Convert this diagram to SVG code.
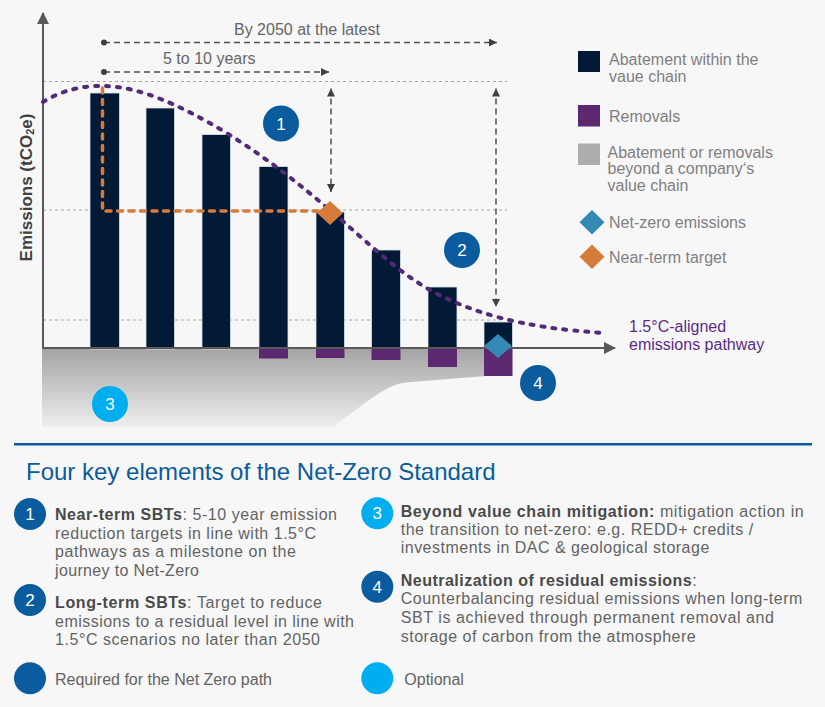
<svg xmlns="http://www.w3.org/2000/svg" width="825" height="707" viewBox="0 0 825 707">
<style>
text { font-family: "Liberation Sans", Arial, sans-serif; }
.bar { fill: #021A35; stroke: #DDE3EA; stroke-width: 0.8; }
.rem { fill: #5C2870; }
.grid { stroke: #A6A6A6; stroke-width: 1; stroke-dasharray: 3 3; fill: none; }
.axis { stroke: #595959; stroke-width: 2; fill: none; }
.ann { stroke: #4D4D4D; stroke-width: 1.5; stroke-dasharray: 6 4; fill: none; }
.annText { font-size: 16px; fill: #666666; }
.leg { font-size: 16px; fill: #808080; }
.num { font-size: 17px; fill: #FFFFFF; text-anchor: middle; }
.req { fill: #0B5C9E; }
.opt { fill: #00AEEF; }
.body { font-size: 16px; fill: #636363; }
.b { font-weight: bold; fill: #4A4A4A; }
.navy { fill: #021A35; }
.blueD { fill: #3589B5; }
.orangeD { fill: #D67B3C; }
</style>
<defs>
  <linearGradient id="greyGrad" x1="0" y1="0" x2="0" y2="1">
    <stop offset="0" stop-color="#A3A3A3"/>
    <stop offset="1" stop-color="#EEEEEE"/>
  </linearGradient>
  <marker id="axisArrow" viewBox="0 0 12 12" refX="11" refY="6" markerWidth="12" markerHeight="12" markerUnits="userSpaceOnUse" orient="auto">
    <path d="M0,0 L12,6 L0,12 Z" fill="#595959"/>
  </marker>
  <marker id="smallArrow" viewBox="0 0 8 8" refX="8" refY="4" markerWidth="8" markerHeight="8" markerUnits="userSpaceOnUse" orient="auto-start-reverse">
    <path d="M0,0 L8,4 L0,8 Z" fill="#404040"/>
  </marker>
  <marker id="startDot" viewBox="0 0 8 8" refX="4" refY="4" markerWidth="8" markerHeight="8" markerUnits="userSpaceOnUse">
    <circle cx="4" cy="4" r="3" fill="#404040"/>
  </marker>
</defs>

<rect x="0" y="0" width="825" height="707" fill="#F7F7F7"/>

<g id="chart">
  <!-- grey beyond value chain region -->
  <path d="M42,348 L486,348 L486,376 L405,382.5 C385,385 362,406 333,427 L42,427 Z" fill="url(#greyGrad)"/>
  <!-- grid lines -->
  <line class="grid" x1="43" y1="81.5" x2="507" y2="81.5"/>
  <line class="grid" x1="43" y1="210" x2="507" y2="210"/>
  <line class="grid" x1="43" y1="320" x2="501" y2="320"/>
  <!-- bars -->
  <rect class="bar" x="90" y="93" width="29.5" height="256"/>
  <rect class="bar" x="146" y="108" width="28.5" height="241"/>
  <rect class="bar" x="202" y="134.5" width="28.5" height="214.5"/>
  <rect class="bar" x="259" y="166.5" width="29" height="182.5"/>
  <rect class="bar" x="316" y="212" width="28.5" height="137"/>
  <rect class="bar" x="371.5" y="250" width="29" height="99"/>
  <rect class="bar" x="428" y="287" width="29" height="62"/>
  <rect class="bar" x="484" y="322" width="28.5" height="27"/>
  <!-- removals -->
  <rect class="rem" x="259" y="348" width="29" height="10.5"/>
  <rect class="rem" x="316" y="348" width="28.5" height="10"/>
  <rect class="rem" x="371.5" y="348" width="29" height="12"/>
  <rect class="rem" x="428" y="348" width="29" height="19"/>
  <rect class="rem" x="484" y="348" width="28.5" height="28"/>
  <!-- axes -->
  <line class="axis" x1="43" y1="349" x2="43" y2="13" marker-end="url(#axisArrow)"/>
  <line class="axis" x1="42" y1="348" x2="615" y2="348" marker-end="url(#axisArrow)"/>
  <!-- 1.5C pathway -->
  <path d="M43,102 C62,90 85,85 105,86 C140,87 180,105 225,132 C270,160 300,185 330,210 C365,240 395,270 430,290 C470,312 520,328 605,333" fill="none" stroke="#522A76" stroke-width="4" stroke-linecap="round" stroke-dasharray="3 8"/>
  <!-- near-term target path -->
  <path d="M102.5,88 L102.5,211 L322,211" fill="none" stroke="#D67B3C" stroke-width="3.5" stroke-linecap="round" stroke-dasharray="5 6.5"/>
  <!-- diamonds -->
  <polygon class="orangeD" points="330,201 343,213 330,225 317,213"/>
  <polygon class="blueD" points="498,334 512,346 498,358 484,346"/>
  <!-- y label -->
  <text transform="translate(32,187.5) rotate(-90)" text-anchor="middle" font-size="17" font-weight="bold" fill="#404040">Emissions (tCO<tspan font-size="11" dy="2">2</tspan><tspan dy="-2">e)</tspan></text>
  <!-- pathway label -->
  <text x="629" y="331.5" font-size="16" fill="#5B2C83">1.5°C-aligned</text>
  <text x="629" y="350" font-size="16" fill="#5B2C83">emissions pathway</text>
</g>

<g id="connectors">
  <line class="ann" x1="104" y1="42.5" x2="497" y2="42.5" marker-start="url(#startDot)" marker-end="url(#smallArrow)"/>
  <line class="ann" x1="104" y1="72" x2="329" y2="72" marker-start="url(#startDot)" marker-end="url(#smallArrow)"/>
  <line class="ann" x1="331" y1="88.5" x2="331" y2="192" marker-start="url(#smallArrow)" marker-end="url(#smallArrow)"/>
  <line class="ann" x1="496" y1="88.5" x2="496" y2="307" marker-start="url(#smallArrow)" marker-end="url(#smallArrow)"/>
  <text class="annText" x="234" y="34.5">By 2050 at the latest</text>
  <text class="annText" x="163" y="63.5">5 to 10 years</text>
</g>

<g id="node-c1"><circle class="req" cx="281" cy="123.5" r="18"/><text class="num" x="281" y="129.5">1</text></g>
<g id="node-c2"><circle class="req" cx="462" cy="250" r="18"/><text class="num" x="462" y="256">2</text></g>
<g id="node-c3"><circle class="opt" cx="110" cy="404" r="18"/><text class="num" x="110" y="410">3</text></g>
<g id="node-c4"><circle class="req" cx="538" cy="383" r="18"/><text class="num" x="538" y="389">4</text></g>

<g id="legend">
  <g id="leg-abatement"><rect class="navy" x="578" y="51" width="22" height="21"/>
    <text class="leg" x="609" y="65">Abatement within the</text>
    <text class="leg" x="609" y="81.5">vaue chain</text></g>
  <g id="leg-removals"><rect class="rem" x="578" y="105" width="22" height="21.5"/>
    <text class="leg" x="609" y="121.5">Removals</text></g>
  <g id="leg-beyond"><rect x="578" y="143.5" width="22" height="21.5" fill="#ADADAD"/>
    <text class="leg" x="607.5" y="157.5">Abatement or removals</text>
    <text class="leg" x="607.5" y="174">beyond a company‘s</text>
    <text class="leg" x="607.5" y="190.5">value chain</text></g>
  <g id="leg-netzero"><polygon class="blueD" points="592,210 604.5,222.3 592,234.5 579.5,222.3"/>
    <text class="leg" x="609" y="227.5">Net-zero emissions</text></g>
  <g id="leg-nearterm"><polygon class="orangeD" points="592,244.5 604.5,256.7 592,269 579.5,256.7"/>
    <text class="leg" x="609" y="263.3">Near-term target</text></g>
</g>

<g id="key">
  <line x1="14" y1="444.3" x2="812" y2="444.3" stroke="#0B5C9E" stroke-width="2.5"/>
  <text x="26" y="480" font-size="24" fill="#0B5C9E">Four key elements of the Net-Zero Standard</text>

  <g id="key-1"><circle class="req" cx="30" cy="514" r="16"/><text class="num" x="30" y="520" font-size="16">1</text>
    <text class="body" x="55" y="520" textLength="282" lengthAdjust="spacing"><tspan class="b">Near-term SBTs</tspan>: 5-10 year emission</text>
    <text class="body" x="55" y="538.5" textLength="261" lengthAdjust="spacing">reduction targets in line with 1.5°C</text>
    <text class="body" x="55" y="557" textLength="241" lengthAdjust="spacing">pathways as a milestone on the</text>
    <text class="body" x="55" y="575.7" textLength="144" lengthAdjust="spacing">journey to Net-Zero</text></g>

  <g id="key-2"><circle class="req" cx="30" cy="600" r="16"/><text class="num" x="30" y="606" font-size="16">2</text>
    <text class="body" x="55" y="607.7" textLength="267" lengthAdjust="spacing"><tspan class="b">Long-term SBTs</tspan>: Target to reduce</text>
    <text class="body" x="55" y="626.5" textLength="299" lengthAdjust="spacing">emissions to a residual level in line with</text>
    <text class="body" x="55" y="645" textLength="265" lengthAdjust="spacing">1.5°C scenarios no later than 2050</text></g>

  <g id="key-3"><circle class="opt" cx="377.3" cy="513.3" r="16"/><text class="num" x="377.3" y="519.3" font-size="16">3</text>
    <text class="body" x="400.7" y="516.7" textLength="403" lengthAdjust="spacing"><tspan class="b">Beyond value chain mitigation:</tspan> mitigation action in</text>
    <text class="body" x="400.7" y="535" textLength="352.6" lengthAdjust="spacing">the transition to net-zero: e.g. REDD+ credits /</text>
    <text class="body" x="400.7" y="553.3" textLength="308.6" lengthAdjust="spacing">investments in DAC &amp; geological storage</text></g>

  <g id="key-4"><circle class="req" cx="377.3" cy="586.7" r="16"/><text class="num" x="377.3" y="592.7" font-size="16">4</text>
    <text class="body" x="400.7" y="585.7" textLength="296" lengthAdjust="spacing"><tspan class="b">Neutralization of residual emissions</tspan>:</text>
    <text class="body" x="400.7" y="604.3" textLength="401.6" lengthAdjust="spacing">Counterbalancing residual emissions when long-term</text>
    <text class="body" x="400.7" y="623.3" textLength="373.3" lengthAdjust="spacing">SBT is achieved through permanent removal and</text>
    <text class="body" x="400.7" y="641.7" textLength="295" lengthAdjust="spacing">storage of carbon from the atmosphere</text></g>

  <g id="key-required"><circle class="req" cx="30" cy="678.3" r="16"/>
    <text class="body" x="55" y="685">Required for the Net Zero path</text></g>
  <g id="key-optional"><circle class="opt" cx="377.3" cy="678.3" r="16"/>
    <text class="body" x="404.3" y="685">Optional</text></g>
</g>
</svg>
